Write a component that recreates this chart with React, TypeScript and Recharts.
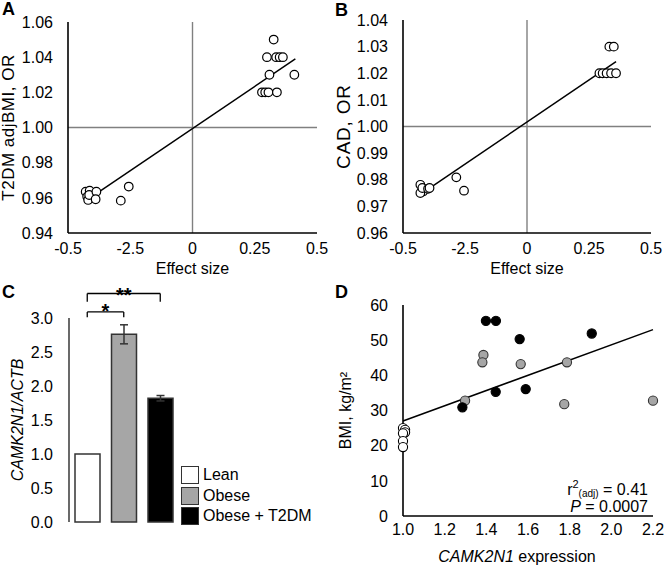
import React from 'react';
import {
  ScatterChart,
  Scatter,
  BarChart,
  Bar,
  Cell,
  ErrorBar,
  XAxis,
  YAxis,
  ReferenceLine,
  Label,
  Customized,
} from 'recharts';

const FONT = '"Liberation Sans", Arial, sans-serif';

// shared x axis of panels A and B (labels printed as in the figure)
const effectTicks = [-0.5, -0.25, 0, 0.25, 0.5];
const effectTickLabels = ['-0.5', '-2.5', '0', '0.25', '0.5'];

// panel A
const t2dmTicks = [0.94, 0.96, 0.98, 1.0, 1.02, 1.04, 1.06];
const t2dmPoints = [
  { x: 0.326, y: 1.05 },
  { x: 0.299, y: 1.04 },
  { x: 0.336, y: 1.04 },
  { x: 0.35, y: 1.04 },
  { x: 0.363, y: 1.04 },
  { x: 0.309, y: 1.03 },
  { x: 0.409, y: 1.03 },
  { x: 0.279, y: 1.02 },
  { x: 0.292, y: 1.02 },
  { x: 0.305, y: 1.02 },
  { x: 0.339, y: 1.02 },
  { x: -0.429, y: 0.9635 },
  { x: -0.423, y: 0.9607 },
  { x: -0.419, y: 0.9588 },
  { x: -0.413, y: 0.9641 },
  { x: -0.415, y: 0.9616 },
  { x: -0.386, y: 0.9635 },
  { x: -0.389, y: 0.9592 },
  { x: -0.288, y: 0.9584 },
  { x: -0.256, y: 0.9664 },
];
const t2dmTrend = [
  { x: -0.395, y: 0.9616 },
  { x: 0.413, y: 1.039 },
];

// panel B
const cadTicks = [0.96, 0.97, 0.98, 0.99, 1.0, 1.01, 1.02, 1.03, 1.04];
const cadPoints = [
  { x: 0.332, y: 1.03 },
  { x: 0.35, y: 1.03 },
  { x: 0.292, y: 1.02 },
  { x: 0.305, y: 1.02 },
  { x: 0.321, y: 1.02 },
  { x: 0.339, y: 1.02 },
  { x: 0.359, y: 1.02 },
  { x: -0.285, y: 0.9809 },
  { x: -0.254, y: 0.9759 },
  { x: -0.43, y: 0.9781 },
  { x: -0.419, y: 0.9756 },
  { x: -0.43, y: 0.975 },
  { x: -0.422, y: 0.9769 },
  { x: -0.399, y: 0.9766 },
  { x: -0.393, y: 0.9769 },
];
const cadTrend = [
  { x: -0.406, y: 0.976 },
  { x: 0.359, y: 1.0244 },
];

// panel C
const groups = ['Lean', 'Obese', 'Obese + T2DM'];
const groupMeans = [1.0, 2.76, 1.82];
const groupErrors = [0, 0.14, 0.04];
const groupColors = ['#ffffff', '#a6a6a6', '#000000'];
const exprTicks = [0, 0.5, 1.0, 1.5, 2.0, 2.5, 3.0];
const brackets = [
  { from: 'Lean', to: 'Obese', top: 3.09, bottom: 3.01, mark: '*', offset: -6 },
  { from: 'Lean', to: 'Obese + T2DM', top: 3.36, bottom: 3.24, mark: '**', offset: -8 },
];

// panel D
const leanPoints = [
  { x: 1.0, y: 25.0 },
  { x: 1.01, y: 24.5 },
  { x: 1.01, y: 23.8 },
  { x: 1.0, y: 23.5 },
  { x: 1.0, y: 21.3 },
  { x: 1.0, y: 19.6 },
];
const obesePoints = [
  { x: 1.386, y: 45.8 },
  { x: 1.381, y: 43.7 },
  { x: 1.565, y: 43.2 },
  { x: 1.787, y: 43.7 },
  { x: 1.298, y: 32.8 },
  { x: 1.774, y: 31.8 },
  { x: 2.2, y: 32.8 },
];
const diabeticPoints = [
  { x: 1.398, y: 55.5 },
  { x: 1.446, y: 55.5 },
  { x: 1.56, y: 50.3 },
  { x: 1.906, y: 51.9 },
  { x: 1.589, y: 36.1 },
  { x: 1.445, y: 35.3 },
  { x: 1.285, y: 30.9 },
];
const bmiTrend = [
  { x: 1.0, y: 27.0 },
  { x: 2.2, y: 53.0 },
];
const bmiTicks = [0, 10, 20, 30, 40, 50, 60];
const camkTicks = [1.0, 1.2, 1.4, 1.6, 1.8, 2.0, 2.2];

const tickStyle = { fill: '#000', fontSize: 16 };

const hollowDot = (props: any) => (
  <circle cx={props.cx} cy={props.cy} r={4.3} fill="#fff" stroke="#000" strokeWidth={1.2} />
);
const makeDot = (fill: string, stroke: string) => (props: any) =>
  <circle cx={props.cx} cy={props.cy} r={4.6} fill={fill} stroke={stroke} strokeWidth={1.1} />;
const noDot = () => <g />;

const PanelLetter = ({ text, left, top }: { text: string; left: number; top: number }) => (
  <div style={{ position: 'absolute', left, top, fontSize: 18, fontWeight: 'bold', lineHeight: 1 }}>{text}</div>
);

interface EffectPanelProps {
  points: { x: number; y: number }[];
  trend: { x: number; y: number }[];
  yTicks: number[];
  yTitle: string;
  yTitleSize: number;
  yTitleSpacing: number;
  yTitleX: number;
  axisWidth: number;
  top: number;
  right: number;
}

const EffectPanel = ({ points, trend, yTicks, yTitle, yTitleSize, yTitleSpacing, yTitleX, axisWidth, top, right }: EffectPanelProps) => (
  <ScatterChart width={333} height={285} margin={{ top, right, bottom: 7, left: 0 }}>
    <XAxis
      type="number"
      dataKey="x"
      domain={[-0.5, 0.5]}
      ticks={effectTicks}
      tickFormatter={(v: number) => effectTickLabels[effectTicks.indexOf(v)] ?? String(v)}
      tick={tickStyle}
      tickLine={false}
      tickSize={0}
      tickMargin={10}
      height={45}
      axisLine={{ stroke: '#000', strokeWidth: 1.6 }}
      interval={0}
    >
      <Label value="Effect size" position="insideBottom" offset={4.5} fill="#000" fontSize={16} />
    </XAxis>
    <YAxis
      type="number"
      dataKey="y"
      domain={[yTicks[0], yTicks[yTicks.length - 1]]}
      ticks={yTicks}
      tickFormatter={(v: number) => v.toFixed(2)}
      tick={tickStyle}
      tickLine={false}
      tickSize={0}
      tickMargin={15}
      width={axisWidth}
      axisLine={{ stroke: '#000', strokeWidth: 1.6 }}
      interval={0}
    >
      <Label
        value={yTitle}
        angle={-90}
        position="insideLeft"
        offset={yTitleX}
        fill="#000"
        fontSize={yTitleSize}
        style={{ textAnchor: 'middle', letterSpacing: yTitleSpacing }}
      />
    </YAxis>
    <ReferenceLine x={0} stroke="#808080" strokeWidth={1.4} />
    <ReferenceLine y={1} stroke="#808080" strokeWidth={1.4} />
    <Scatter data={trend} line={{ stroke: '#000', strokeWidth: 1.5 }} shape={noDot} isAnimationActive={false} legendType="none" />
    <Scatter data={points} shape={hollowDot} isAnimationActive={false} />
  </ScatterChart>
);

const barData = groups.map((name, i) => ({ name, value: groupMeans[i], err: groupErrors[i] }));

const ExpressionPanel = () => (
  <BarChart width={333} height={289} data={barData} margin={{ top: 38, right: 154.5, bottom: 47, left: 0 }}>
    <XAxis dataKey="name" hide />
    <YAxis
      type="number"
      domain={[0, 3]}
      ticks={exprTicks}
      tickFormatter={(v: number) => v.toFixed(1)}
      tick={tickStyle}
      tickLine={false}
      tickSize={0}
      tickMargin={16}
      width={69}
      axisLine={{ stroke: '#444', strokeWidth: 1.6 }}
      interval={0}
    >
      <Label
        value="CAMK2N1/ACTB"
        angle={-90}
        position="insideLeft"
        offset={17}
        fill="#000"
        fontSize={16}
        fontStyle="italic"
        style={{ textAnchor: 'middle' }}
      />
    </YAxis>
    <Bar dataKey="value" barSize={25} stroke="#333" strokeWidth={1.5} isAnimationActive={false}>
      {barData.map((d, i) => (
        <Cell key={d.name} fill={groupColors[i]} />
      ))}
      <ErrorBar dataKey="err" width={4} stroke="#333" strokeWidth={1.5} direction="y" isAnimationActive={false} />
    </Bar>
    {brackets.map((b) => (
      <ReferenceLine
        key={b.mark + 'h'}
        segment={[{ x: b.from, y: b.top }, { x: b.to, y: b.top }]}
        stroke="#000"
        strokeWidth={1.3}
        ifOverflow="visible"
        label={{ value: b.mark, position: 'top', offset: b.offset, fill: '#000', fontSize: 20, fontWeight: 'bold' }}
      />
    ))}
    {brackets.flatMap((b) =>
      [b.from, b.to].map((g) => (
        <ReferenceLine
          key={b.mark + g}
          segment={[{ x: g, y: b.top }, { x: g, y: b.bottom }]}
          stroke="#000"
          strokeWidth={1.3}
          ifOverflow="visible"
        />
      ))
    )}
  </BarChart>
);

const GroupLegend = () => (
  <div style={{ position: 'absolute', left: 181, top: 465 }}>
    {groups.map((g, i) => (
      <div key={g} style={{ display: 'flex', alignItems: 'center', height: 20.5 }}>
        <div
          style={{
            width: 16,
            height: 16,
            background: groupColors[i],
            border: '1.5px solid #333',
          }}
        />
        <span style={{ marginLeft: 4, fontSize: 16, lineHeight: 1 }}>{g}</span>
      </div>
    ))}
  </div>
);

const BmiPanel = () => (
  <ScatterChart width={333} height={289} margin={{ top: 25, right: 13, bottom: 5, left: 0 }}>
    <XAxis
      type="number"
      dataKey="x"
      domain={[1.0, 2.2]}
      ticks={camkTicks}
      tickFormatter={(v: number) => v.toFixed(1)}
      tick={tickStyle}
      tickLine={false}
      tickSize={0}
      tickMargin={8}
      height={48}
      axisLine={{ stroke: '#000', strokeWidth: 1.6 }}
      interval={0}
    >
      <Label
        content={(props: any) => {
          const vb = props.viewBox;
          return (
            <text x={vb.x + vb.width / 2 - 11} y={vb.y + vb.height - 2.5} textAnchor="middle" fontSize={16} fill="#000">
              <tspan fontStyle="italic">CAMK2N1</tspan> expression
            </text>
          );
        }}
      />
    </XAxis>
    <YAxis
      type="number"
      dataKey="y"
      domain={[0, 60]}
      ticks={bmiTicks}
      tick={tickStyle}
      tickLine={false}
      tickSize={0}
      tickMargin={15}
      width={70}
      axisLine={{ stroke: '#000', strokeWidth: 1.6 }}
      interval={0}
    >
      <Label
        value="BMI, kg/m²"
        angle={-90}
        position="insideLeft"
        offset={12}
        fill="#000"
        fontSize={16}
        style={{ textAnchor: 'middle' }}
      />
    </YAxis>
    <Scatter data={bmiTrend} line={{ stroke: '#000', strokeWidth: 1.5 }} shape={noDot} isAnimationActive={false} legendType="none" />
    <Scatter data={leanPoints} shape={makeDot('#fff', '#000')} isAnimationActive={false} />
    <Scatter data={obesePoints} shape={makeDot('#a6a6a6', '#333')} isAnimationActive={false} />
    <Scatter data={diabeticPoints} shape={makeDot('#000', '#000')} isAnimationActive={false} />
    <Customized
      component={() => (
        <g fill="#000" fontSize={16}>
          <text x={315} y={215} textAnchor="end">
            r<tspan dy={-7} fontSize={11}>2</tspan>
            <tspan dy={9} fontSize={10}>(adj)</tspan>
            <tspan dy={-2}> = 0.41</tspan>
          </text>
          <text x={315} y={232} textAnchor="end">
            <tspan fontStyle="italic">P</tspan> = 0.0007
          </text>
        </g>
      )}
    />
  </ScatterChart>
);

export default function App() {
  return (
    <div
      style={{
        position: 'absolute',
        left: 0,
        top: 0,
        width: 666,
        height: 569,
        background: '#fff',
        fontFamily: FONT,
        color: '#000',
        overflow: 'hidden',
      }}
    >
      <div style={{ position: 'absolute', left: 0, top: 0 }}>
        <EffectPanel
          points={t2dmPoints}
          trend={t2dmTrend}
          yTicks={t2dmTicks}
          yTitle="T2DM adjBMI, OR"
          yTitleSize={17}
          yTitleSpacing={0.5}
          yTitleX={8}
          axisWidth={68}
          top={22}
          right={16}
        />
      </div>
      <div style={{ position: 'absolute', left: 333, top: 0 }}>
        <EffectPanel
          points={cadPoints}
          trend={cadTrend}
          yTicks={cadTicks}
          yTitle="CAD, OR"
          yTitleSize={19}
          yTitleSpacing={0.8}
          yTitleX={10}
          axisWidth={70}
          top={20}
          right={15}
        />
      </div>
      <div style={{ position: 'absolute', left: 0, top: 280 }}>
        <ExpressionPanel />
      </div>
      <GroupLegend />
      <div style={{ position: 'absolute', left: 333, top: 280 }}>
        <BmiPanel />
      </div>
      <PanelLetter text="A" left={2} top={0} />
      <PanelLetter text="B" left={335} top={1} />
      <PanelLetter text="C" left={2} top={283} />
      <PanelLetter text="D" left={335} top={283} />
    </div>
  );
}
